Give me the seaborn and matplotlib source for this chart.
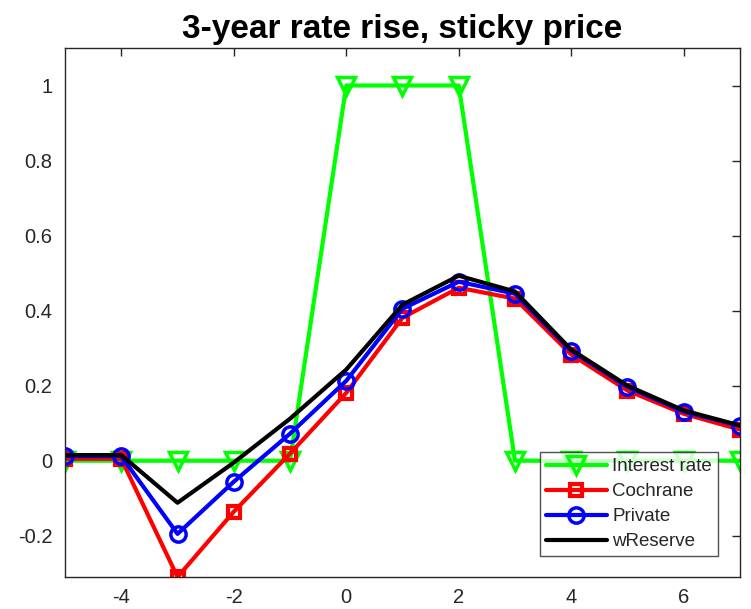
import numpy as np
import pandas as pd
import matplotlib
matplotlib.use("Agg")
import matplotlib.pyplot as plt
import seaborn as sns

# horizon (years)
t = [-5, -4, -3, -2, -1, 0, 1, 2, 3, 4, 5, 6, 7]

interest_rate = [0, 0, 0, 0, 0, 1, 1, 1, 0, 0, 0, 0, 0]
cochrane = [0.005, 0.005, -0.31, -0.136, 0.019, 0.181, 0.381, 0.461, 0.432, 0.283, 0.187, 0.125, 0.083]
private = [0.012, 0.012, -0.195, -0.056, 0.072, 0.213, 0.405, 0.477, 0.445, 0.293, 0.197, 0.131, 0.093]
wreserve = [0.015, 0.015, -0.112, -0.005, 0.112, 0.243, 0.416, 0.493, 0.451, 0.296, 0.200, 0.134, 0.094]

sns.set_style("white")
plt.rcParams['font.family'] = ['Liberation Sans', 'DejaVu Sans']
plt.rcParams['axes.unicode_minus'] = False

fig = plt.figure(figsize=(7.51, 6.09), dpi=100)
ax = fig.add_axes([0.0866, 0.0525, 0.8987, 0.8687])

sns.lineplot(x=t, y=interest_rate, ax=ax, color='#00ff00', lw=3, marker='v',
             markersize=13, markerfacecolor='none', markeredgecolor='#00ff00',
             markeredgewidth=2.5, label='Interest rate')
sns.lineplot(x=t, y=cochrane, ax=ax, color='#ff0000', lw=3, marker='s',
             markersize=8, markerfacecolor='none', markeredgecolor='#ff0000',
             markeredgewidth=3, label='Cochrane')
sns.lineplot(x=t, y=private, ax=ax, color='#0000ff', lw=3, marker='o',
             markersize=11, markerfacecolor='none', markeredgecolor='#0000ff',
             markeredgewidth=2.5, label='Private')
sns.lineplot(x=t, y=wreserve, ax=ax, color='black', lw=3, label='wReserve')

ax.set_xlim(-5, 7)
ax.set_ylim(-0.31, 1.1)
ax.set_xticks([-4, -2, 0, 2, 4, 6])
ax.set_yticks([-0.2, 0, 0.2, 0.4, 0.6, 0.8, 1])
ax.set_yticklabels(['-0.2', '0', '0.2', '0.4', '0.6', '0.8', '1'])
ax.tick_params(direction='in', length=6, width=1, colors='#262626',
               labelsize=14.5, top=True, right=True)
ax.tick_params(axis='x', pad=8)
ax.tick_params(axis='y', pad=9)
for s in ax.spines.values():
    s.set_color('#262626')
    s.set_linewidth(1)

ax.set_title('3-year rate rise, sticky price', fontsize=24, fontweight='bold',
             color='black', pad=7)

leg = ax.legend(loc='lower right', bbox_to_anchor=(0.967, 0.04), fontsize=13.5,
                frameon=True, fancybox=False, edgecolor='#262626',
                handlelength=3.25, borderpad=0.3, labelspacing=0.42,
                handletextpad=0.3, borderaxespad=0)
leg.get_frame().set_linewidth(1)

fig.savefig('out.png', dpi=100)
